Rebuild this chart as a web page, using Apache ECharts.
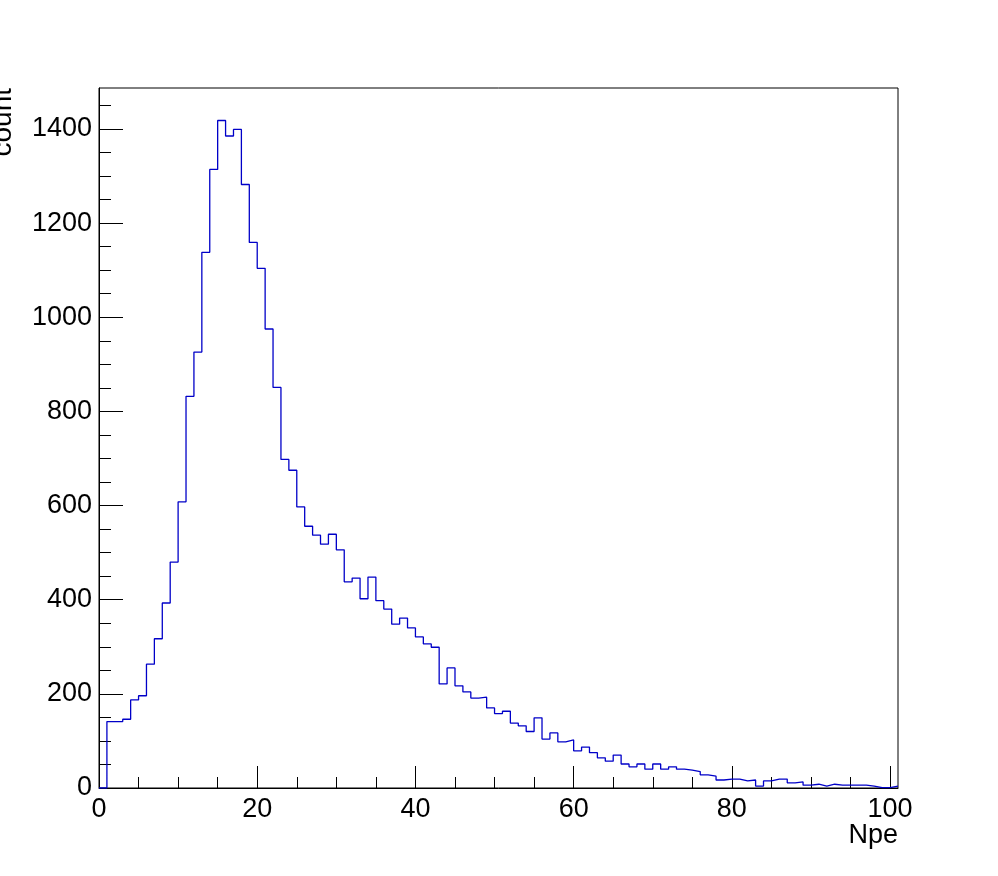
<!DOCTYPE html>
<html>
<head>
<meta charset="utf-8">
<script src="https://cdn.jsdelivr.net/npm/echarts@6/dist/echarts.min.js"></script>
<style>
html,body{margin:0;padding:0;background:#fff;}
#chart{width:998px;height:876px;}
</style>
</head>
<body>
<div id="chart"></div>
<script>
// Histogram: bins of width 1 starting at 0
const binStart = 0;
const binWidth = 1;
const counts = [
  0, 141, 141, 146, 187, 196, 263, 317, 393, 480,
  608, 832, 926, 1138, 1314, 1418, 1385, 1399, 1282, 1159,
  1104, 975, 851, 698, 675, 597, 556, 537, 518, 539,
  506, 438, 446, 402, 448, 398, 380, 348, 361, 340,
  321, 306, 299, 221, 255, 217, 204, 191, 193, 170,
  158, 163, 138, 132, 120, 149, 104, 117, 98, 102,
  79, 87, 75, 64, 57, 70, 51, 45, 51, 40,
  51, 40, 45, 40, 38, 35, 28, 25, 17, 19,
  19, 15, 17, 4, 15, 19, 19, 11, 13, 6,
  8, 4, 8, 6, 6, 6, 6, 4, 1, 1,
  4
];
const xRange = [0, 101];
const yRange = [0, 1487];
const xMajorTicks = [0, 20, 40, 60, 80, 100];
const xMinorTicks = [5, 10, 15, 25, 30, 35, 45, 50, 55, 65, 70, 75, 85, 90, 95];
const yMajorTicks = [0, 200, 400, 600, 800, 1000, 1200, 1400];
const yMinorTicks = [50, 100, 150, 250, 300, 350, 450, 500, 550, 650, 700, 750, 850, 900, 950,
  1050, 1100, 1150, 1250, 1300, 1350, 1450];
const xTitle = 'Npe';
const yTitle = 'count';

// step-line points at bin low edges, plus the final upper edge
const stepData = counts.map((c, i) => [binStart + i * binWidth, c]);
stepData.push([binStart + counts.length * binWidth, counts[counts.length - 1]]);

const FONT = '"Liberation Sans", Arial, Helvetica, sans-serif';
const chart = echarts.init(document.getElementById('chart'), null, {renderer: 'canvas'});

const plain = v => String(v);

const baseX = {
  type: 'value', min: xRange[0], max: xRange[1], gridIndex: 0, position: 'bottom',
  splitLine: {show: false}
};
const baseY = {
  type: 'value', min: yRange[0], max: yRange[1], gridIndex: 0, position: 'left',
  splitLine: {show: false}
};

chart.setOption({
  backgroundColor: '#ffffff',
  animation: false,
  grid: {
    left: 99, top: 88, right: 100, bottom: 88,
    show: true, borderColor: '#000', borderWidth: 1, backgroundColor: 'transparent'
  },
  xAxis: [
    Object.assign({}, baseX, {
      axisLine: {show: true, lineStyle: {color: '#000', width: 1}},
      axisTick: {show: true, inside: true, length: 22, customValues: xMajorTicks, lineStyle: {color: '#000'}},
      axisLabel: {show: true, customValues: xMajorTicks, formatter: plain, margin: 8, color: '#000', fontSize: 27, fontFamily: FONT}
    }),
    Object.assign({}, baseX, {
      axisLine: {show: false},
      axisTick: {show: true, inside: true, length: 11, customValues: xMinorTicks, lineStyle: {color: '#000'}},
      axisLabel: {show: false}
    })
  ],
  yAxis: [
    Object.assign({}, baseY, {
      axisLine: {show: true, lineStyle: {color: '#000', width: 1}},
      axisTick: {show: true, inside: true, length: 24, customValues: yMajorTicks, lineStyle: {color: '#000'}},
      axisLabel: {show: true, customValues: yMajorTicks, formatter: plain, margin: 7, color: '#000', fontSize: 27, fontFamily: FONT}
    }),
    Object.assign({}, baseY, {
      axisLine: {show: false},
      axisTick: {show: true, inside: true, length: 12, customValues: yMinorTicks, lineStyle: {color: '#000'}},
      axisLabel: {show: false}
    })
  ],
  graphic: [
    {
      type: 'text', right: 100, top: 822,
      style: {text: xTitle, fill: '#000', font: '27px ' + FONT}
    },
    {
      type: 'text', x: 17, y: 88, rotation: Math.PI / 2,
      style: {text: yTitle, fill: '#000', font: '28px ' + FONT, align: 'right', verticalAlign: 'bottom'}
    }
  ],
  series: [{
    type: 'line',
    xAxisIndex: 0, yAxisIndex: 0,
    step: 'end',
    data: stepData,
    symbol: 'none',
    lineStyle: {color: '#0000c8', width: 1.3},
    clip: true
  }]
});
</script>
</body>
</html>
